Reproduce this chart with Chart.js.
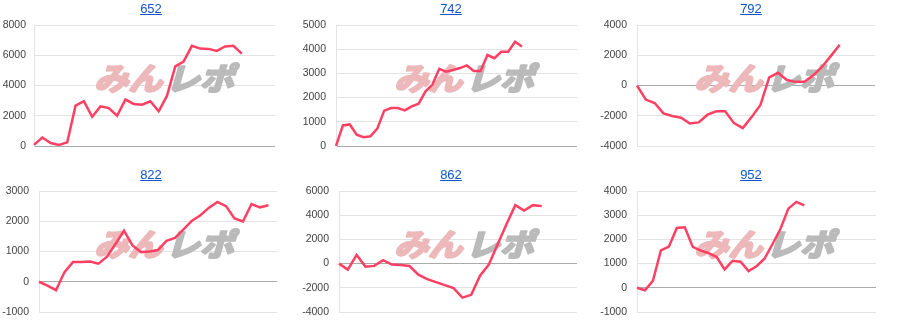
<!DOCTYPE html>
<html>
<head>
<meta charset="utf-8">
<script src="https://cdn.jsdelivr.net/npm/chart.js@4"></script>
<style>
    body { margin: 0; background: #fff; }
    #grid { display: grid; grid-template-columns: 300px 300px 300px; grid-template-rows: 166px 166px; width: 900px; }
    .cell { position: relative; width: 300px; height: 166px; }
    .cell a {
        position: absolute; top: 1px; left: 0; width: 302px; text-align: center;
        font: 13px/15px "Liberation Sans", Arial, sans-serif; color: #1155cc; text-decoration: underline;
    }
    .cell canvas { position: absolute; left: 0; top: 0; }
</style>
</head>
<body>
<div id="grid"></div>
<script>
// chart data
const titles = ['652', '742', '792', '822', '862', '952'];
const categoryCounts = [30, 36, 28, 29, 28, 31];

const s652 = [70, 560, 200, 70, 240, 2670, 2960, 1930, 2620, 2510, 2000, 3070, 2780, 2730, 2960, 2290, 3310, 5270, 5580, 6620, 6440, 6420, 6290, 6580, 6620, 6110];
const s742 = [0, 850, 890, 470, 360, 400, 720, 1460, 1570, 1570, 1470, 1640, 1750, 2260, 2540, 3190, 3070, 3140, 3220, 3330, 3100, 3100, 3760, 3630, 3890, 3890, 4310, 4110];
const s792 = [0, -930, -1160, -1840, -2020, -2130, -2510, -2440, -1930, -1710, -1710, -2490, -2820, -2090, -1290, 530, 840, 360, 240, 240, 670, 1240, 1960, 2690];
const s822 = [0, -130, -280, 320, 650, 650, 670, 600, 830, 1250, 1690, 1200, 980, 1000, 1050, 1350, 1450, 1730, 2020, 2200, 2450, 2640, 2500, 2090, 1990, 2570, 2460, 2530];
const s862 = [0, -500, 720, -250, -190, 280, -80, -120, -200, -920, -1280, -1530, -1780, -2030, -2810, -2580, -1000, -80, 1600, 3250, 4830, 4390, 4830, 4750];
const s952 = [0, -100, 290, 1550, 1700, 2470, 2500, 1690, 1540, 1430, 1270, 760, 1120, 1080, 690, 890, 1200, 1800, 2430, 3270, 3550, 3410];
const seriesList = [s652, s742, s792, s822, s862, s952];

const yMin = [0, 0, -4000, -1000, -4000, -1000];
const yMax = [8000, 5000, 4000, 3000, 6000, 4000];
const yStep = [2000, 1000, 2000, 1000, 2000, 1000];

// layout (pixels inside each 300x166 cell)
const plotLeft = [34, 36, 37, 39, 39, 37];
const plotRight = [275, 277, 275, 277, 277, 276];
const tickPad = [8, 10, 10, 10, 10, 10];

// watermark logo drawn behind the line
const watermark = {
    id: 'watermark',
    beforeDatasetsDraw(chart) {
        const ctx = chart.ctx;
        ctx.save();
        ctx.translate(166, 77);
        ctx.transform(1.1, 0, -0.28, 1, 0, 0);
        ctx.font = 'bold 31px "Noto Sans CJK JP"';
        ctx.textBaseline = 'middle';
        ctx.lineWidth = 2.5;
        ctx.lineJoin = 'round';

        ctx.textAlign = 'right';
        ctx.fillStyle = ctx.strokeStyle = 'rgb(236, 184, 186)';
        ctx.strokeText('みん', 0, 1);
        ctx.fillText('みん', 0, 1);

        ctx.textAlign = 'left';
        ctx.fillStyle = ctx.strokeStyle = 'rgb(186, 186, 186)';
        ctx.strokeText('レポ', 3, 1);
        ctx.fillText('レポ', 3, 1);
        ctx.restore();
    }
};

const grid = document.getElementById('grid');

seriesList.forEach((values, i) => {
    const cell = document.createElement('div');
    cell.className = 'cell';
    cell.innerHTML = `<canvas width="300" height="166"></canvas><a href="#">${titles[i]}</a>`;
    grid.appendChild(cell);

    const labels = Array.from({ length: categoryCounts[i] }, (_, k) => k + 1);
    const canvas = cell.querySelector('canvas');

    new Chart(canvas.getContext('2d'), {
        type: 'line',
        data: {
            labels: labels,
            datasets: [{
                data: values,
                borderColor: '#ff4062',
                borderWidth: 2.5,
                pointRadius: 0,
                tension: 0,
                fill: false
            }]
        },
        options: {
            responsive: false,
            animation: false,
            devicePixelRatio: 1,
            layout: { padding: { left: 0, right: 300 - plotRight[i], top: 25, bottom: 20 } },
            plugins: { legend: { display: false }, tooltip: { enabled: false } },
            scales: {
                x: { display: false },
                y: {
                    min: yMin[i],
                    max: yMax[i],
                    afterFit: (scale) => { scale.width = plotLeft[i]; },
                    grid: {
                        drawTicks: false,
                        color: (c) => c.tick && c.tick.value === 0 ? '#aaaaaa' : '#e3e3e3',
                        lineWidth: 1
                    },
                    border: { display: true, color: '#e3e3e3' },
                    ticks: {
                        stepSize: yStep[i],
                        padding: tickPad[i],
                        color: '#444',
                        font: { family: '"Liberation Sans", Arial', size: 10.5 },
                        callback: (v) => String(v)
                    }
                }
            }
        },
        plugins: [watermark]
    });
});
</script>
</body>
</html>
